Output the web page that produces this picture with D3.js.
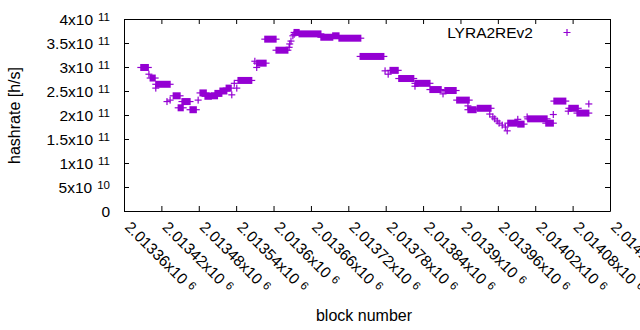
<!DOCTYPE html>
<html>
<head>
<meta charset="utf-8">
<script src="https://cdn.jsdelivr.net/npm/d3@7"></script>
<style>
body { margin: 0; background: #fff; }
text { font-family: "Liberation Sans", Arial, sans-serif; fill: #000; }
</style>
</head>
<body>
<div id="chart"></div>
<script>
// each run = consecutive blocks sharing the same hashrate value
const runStart = [2013387, 2013400, 2013402, 2013411, 2013411, 2013429, 2013434, 2013439, 2013447, 2013453,
  2013466, 2013479, 2013482, 2013490, 2013500, 2013506, 2013514, 2013524, 2013533, 2013537,
  2013541, 2013543, 2013570, 2013573, 2013573, 2013586, 2013604, 2013625, 2013626, 2013628,
  2013631, 2013633, 2013633, 2013641, 2013676, 2013695, 2013705, 2013739, 2013779, 2013784,
  2013787, 2013801, 2013827, 2013827, 2013851, 2013872, 2013875, 2013894, 2013912, 2013912,
  2013927, 2013947, 2013952, 2013955, 2013959, 2013962, 2013967, 2013972, 2013975, 2013976,
  2013992, 2013992, 2014007, 2014008, 2014037, 2014049, 2014050, 2014073, 2014074, 2014087,
  2014106];
const runEnd = [2013399, 2013400, 2013410, 2013411, 2013434, 2013429, 2013434, 2013450, 2013455, 2013466,
  2013476, 2013479, 2013492, 2013500, 2013510, 2013517, 2013525, 2013532, 2013533, 2013537,
  2013541, 2013565, 2013570, 2013573, 2013588, 2013604, 2013623, 2013625, 2013626, 2013628,
  2013631, 2013633, 2013641, 2013676, 2013695, 2013705, 2013740, 2013777, 2013779, 2013784,
  2013800, 2013825, 2013827, 2013851, 2013869, 2013872, 2013893, 2013914, 2013912, 2013925,
  2013949, 2013947, 2013952, 2013955, 2013959, 2013962, 2013967, 2013972, 2013975, 2013991,
  2013992, 2014002, 2014007, 2014039, 2014049, 2014049, 2014069, 2014073, 2014089, 2014106,
  2014106];
const runHash = [2.99e11, 2.85e11, 2.77e11, 2.56e11, 2.64e11, 2.28e11, 2.31e11, 2.40e11, 2.15e11, 2.28e11,
  2.11e11, 2.31e11, 2.46e11, 2.39e11, 2.40e11, 2.45e11, 2.50e11, 2.56e11, 2.42e11, 2.66e11,
  2.56e11, 2.72e11, 3.12e11, 2.99e11, 3.08e11, 3.58e11, 3.35e11, 3.41e11, 3.48e11, 3.54e11,
  3.65e11, 3.68e11, 3.72e11, 3.69e11, 3.62e11, 3.65e11, 3.60e11, 3.22e11, 2.92e11, 2.85e11,
  2.93e11, 2.76e11, 2.60e11, 2.66e11, 2.53e11, 2.44e11, 2.51e11, 2.31e11, 2.19e11, 2.11e11,
  2.14e11, 2.02e11, 1.96e11, 1.92e11, 1.875e11, 1.83e11, 1.79e11, 1.75e11, 1.67e11, 1.83e11,
  1.91e11, 1.81e11, 1.96e11, 1.92e11, 1.83e11, 2.01e11, 2.29e11, 2.08e11, 2.14e11, 2.04e11,
  2.23e11];

const xTicks = [2013360, 2013420, 2013480, 2013540, 2013600, 2013660, 2013720,
  2013780, 2013840, 2013900, 2013960, 2014020, 2014080, 2014140];
const xTickMant = ["2.01336", "2.01342", "2.01348", "2.01354", "2.0136", "2.01366", "2.01372",
  "2.01378", "2.01384", "2.0139", "2.01396", "2.01402", "2.01408", "2.01414"];
const xTickExp = "6";
const yTicks = [0, 5e10, 1e11, 1.5e11, 2e11, 2.5e11, 3e11, 3.5e11, 4e11];
const yTickMant = ["0", "5", "1", "1.5", "2", "2.5", "3", "3.5", "4"];
const yTickExp = ["", "10", "11", "11", "11", "11", "11", "11", "11"];
const seriesName = "LYRA2REv2";

var width = 640, height = 330;
var plotL = 124, plotR = 610, plotT = 19, plotB = 211;
var color = "#9400d3";

var svg = d3.select("#chart").append("svg")
  .attr("width", width)
  .attr("height", height)
  .style("display", "block");

var x = d3.scaleLinear().domain([2013360, 2014140]).range([plotL, plotR]);
var y = d3.scaleLinear().domain([0, 4e11]).range([plotB, plotT]);

// border with inward ticks on all four sides (gnuplot style)
svg.append("g").attr("transform", `translate(0,${plotB})`)
  .call(d3.axisBottom(x).tickValues(xTicks).tickSizeInner(-5).tickSizeOuter(0).tickFormat(""));
svg.append("g").attr("transform", `translate(0,${plotT})`)
  .call(d3.axisTop(x).tickValues(xTicks).tickSizeInner(-5).tickSizeOuter(0).tickFormat(""));
svg.append("g").attr("transform", `translate(${plotL},0)`)
  .call(d3.axisLeft(y).tickValues(yTicks).tickSizeInner(-5).tickSizeOuter(0).tickFormat(""));
svg.append("g").attr("transform", `translate(${plotR},0)`)
  .call(d3.axisRight(y).tickValues(yTicks).tickSizeInner(-5).tickSizeOuter(0).tickFormat(""));
svg.selectAll(".domain, .tick line").attr("stroke", "#000").attr("stroke-width", 1);

// y tick labels
yTicks.forEach((t, i) => {
  var lab = svg.append("text")
    .attr("x", 110)
    .attr("y", y(t) + 5.5)
    .attr("text-anchor", "end")
    .style("font-size", "15.5px");
  lab.append("tspan").text(yTickMant[i] + (yTickExp[i] ? "x10" : ""));
  if (yTickExp[i]) {
    lab.append("tspan").attr("dx", 5).attr("dy", -3.5).style("font-size", "11.5px").text(yTickExp[i]);
  }
});

// x tick labels, rotated
xTicks.forEach((t, i) => {
  var lab = svg.append("text")
    .attr("transform", `translate(${x(t)},228) rotate(45)`)
    .style("font-size", "15.5px");
  lab.append("tspan").text(xTickMant[i] + "x10");
  lab.append("tspan").attr("dx", 5).attr("dy", -3.5).style("font-size", "11.5px").text(xTickExp);
});

// axis titles
svg.append("text")
  .attr("transform", "translate(20,115.5) rotate(-90)")
  .attr("text-anchor", "middle")
  .style("font-size", "16px")
  .text("hashrate [h/s]");
svg.append("text")
  .attr("x", 364).attr("y", 321)
  .attr("text-anchor", "middle")
  .style("font-size", "16px")
  .text("block number");

// data: '+' markers, dense runs merge into bars with arms
var runs = runStart.map((s, i) => ({ s: s, e: runEnd[i], v: runHash[i] }));
var g = svg.append("g");
g.selectAll("rect").data(runs).enter().append("rect")
  .attr("x", d => x(d.s) - 0.6)
  .attr("width", d => x(d.e) - x(d.s) + 1.2)
  .attr("y", d => y(d.v) - 3.5)
  .attr("height", 7)
  .attr("fill", color);
g.selectAll("line").data(runs).enter().append("line")
  .attr("x1", d => x(d.s) - 3.5)
  .attr("x2", d => x(d.e) + 3.5)
  .attr("y1", d => y(d.v))
  .attr("y2", d => y(d.v))
  .attr("stroke", color)
  .attr("stroke-width", 1.2);

// legend
svg.append("text")
  .attr("x", 533).attr("y", 37.5)
  .attr("text-anchor", "end")
  .style("font-size", "15.5px")
  .text(seriesName);
var lx = 567, ly = 32.5;
svg.append("path")
  .attr("d", `M${lx - 3.5},${ly}H${lx + 3.5}M${lx},${ly - 3.5}V${ly + 3.5}`)
  .attr("stroke", color)
  .attr("stroke-width", 1.2)
  .attr("fill", "none");
</script>
</body>
</html>
